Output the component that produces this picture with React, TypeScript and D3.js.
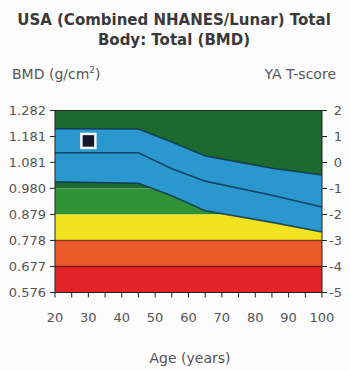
import { useRef, useEffect } from "react";
import * as d3 from "d3";

// Age grid for the reference curves
const ages = [20, 45, 55, 65, 85, 100];
// Reference curve (BMD, g/cm²): mean ± 1 SD
const upperBmd = [1.211, 1.21, 1.16, 1.106, 1.058, 1.032];
const meanBmd = [1.118, 1.118, 1.056, 1.008, 0.953, 0.908];
const lowerBmd = [1.005, 1.0, 0.951, 0.893, 0.848, 0.811];

// T-score zones (top, bottom, colour)
const zoneTop = [2, -1, -2, -3, -4];
const zoneBottom = [-1, -2, -3, -4, -5];
const zoneColors = ["#1c6a2f", "#2f9236", "#f1e321", "#ec5a2b", "#e3242a"];

// Axis labels
const bmdTicks = ["1.282", "1.181", "1.081", "0.980", "0.879", "0.778", "0.677", "0.576"];
const tTicks = [2, 1, 0, -1, -2, -3, -4, -5];
const ageTicks = [20, 30, 40, 50, 60, 70, 80, 90, 100];

// Patient point
const patientAge = [30];
const patientBmd = [1.164];

const W = 350;
const H = 371;
const left = 55;
const right = 322;
const top = 110.5;
const bottom = 292.5;
const FONT = "'DejaVu Sans', sans-serif";

export default function App() {
  const svgRef = useRef<SVGSVGElement>(null);

  useEffect(() => {
    const svg = d3.select(svgRef.current);
    if (!svg.node()) return;
    svg.selectAll("*").remove();

    const x = d3.scaleLinear().domain([20, 100]).range([left, right]);
    const y = d3.scaleLinear().domain([0.576, 1.282]).range([bottom, top]);
    const t = d3.scaleLinear().domain([-5, 2]).range([bottom, top]);

    svg.append("rect").attr("width", W).attr("height", H).attr("fill", "#fdfcfd");

    // zones
    svg.selectAll("rect.zone")
      .data(zoneTop)
      .join("rect")
      .attr("class", "zone")
      .attr("x", left)
      .attr("width", right - left)
      .attr("y", (d) => t(d))
      .attr("height", (d, i) => t(zoneBottom[i]) - t(d))
      .attr("fill", (d, i) => zoneColors[i]);

    // dark boundaries between lower zones
    svg.selectAll("line.zb")
      .data([-3, -4])
      .join("line")
      .attr("x1", left)
      .attr("x2", right)
      .attr("y1", (d) => t(d))
      .attr("y2", (d) => t(d))
      .attr("stroke", (d) => (d === -3 ? "#8a3a12" : "#7a1a14"))
      .attr("stroke-width", 1.5);

    // reference band
    const pts = ages.map((a, i) => ({ a, u: upperBmd[i], m: meanBmd[i], l: lowerBmd[i] }));
    const area = d3.area<any>()
      .x((d) => x(d.a))
      .y0((d) => y(d.l))
      .y1((d) => y(d.u));
    svg.append("path").datum(pts).attr("d", area).attr("fill", "#2a98ce");

    const edge = (key: "u" | "m" | "l") =>
      d3.line<any>().x((d) => x(d.a)).y((d) => y(d[key]));
    (["u", "m", "l"] as const).forEach((k) => {
      svg.append("path")
        .datum(pts)
        .attr("d", edge(k))
        .attr("fill", "none")
        .attr("stroke", "#0f3550")
        .attr("stroke-opacity", 0.85)
        .attr("stroke-width", 1.6);
    });

    // frame
    svg.append("rect")
      .attr("x", left)
      .attr("y", top)
      .attr("width", right - left)
      .attr("height", bottom - top)
      .attr("fill", "none")
      .attr("stroke", "#222")
      .attr("stroke-width", 1);

    // left axis ticks + labels
    const lt = svg.append("g");
    bmdTicks.forEach((s) => {
      const yy = y(+s);
      lt.append("line").attr("x1", left - 5).attr("x2", left).attr("y1", yy).attr("y2", yy)
        .attr("stroke", "#222");
      lt.append("text").attr("x", 46).attr("y", yy).attr("dy", "0.35em")
        .attr("text-anchor", "end").attr("font-size", 13).attr("fill", "#555")
        .attr("font-family", FONT).text(s);
    });

    // right axis ticks + labels
    const rt = svg.append("g");
    tTicks.forEach((v) => {
      const yy = t(v);
      rt.append("line").attr("x1", right).attr("x2", right + 5).attr("y1", yy).attr("y2", yy)
        .attr("stroke", "#222");
      rt.append("text").attr("x", 342).attr("y", yy).attr("dy", "0.35em")
        .attr("text-anchor", "end").attr("font-size", 13).attr("fill", "#555")
        .attr("font-family", FONT).text(v);
    });

    // bottom ticks every 5 years
    svg.selectAll("line.xt")
      .data(d3.range(20, 101, 5))
      .join("line")
      .attr("class", "xt")
      .attr("x1", (d) => x(d))
      .attr("x2", (d) => x(d))
      .attr("y1", bottom)
      .attr("y2", bottom + 5)
      .attr("stroke", "#222");
    svg.selectAll("text.xl")
      .data(ageTicks)
      .join("text")
      .attr("class", "xl")
      .attr("x", (d) => x(d))
      .attr("y", 322)
      .attr("text-anchor", "middle")
      .attr("font-size", 13)
      .attr("fill", "#555")
      .attr("font-family", FONT)
      .text((d) => d);

    // patient marker
    svg.selectAll("rect.pt")
      .data(patientAge)
      .join("rect")
      .attr("class", "pt")
      .attr("x", (d) => x(d) - 7)
      .attr("y", (d, i) => y(patientBmd[i]) - 7)
      .attr("width", 14)
      .attr("height", 14)
      .attr("fill", "#15182a")
      .attr("stroke", "#f4f4f4")
      .attr("stroke-width", 2.5);

    // titles
    const txt = (s: string, xx: number, yy: number, size: number, anchor: string, weight = "normal", fill = "#555") =>
      svg.append("text").attr("x", xx).attr("y", yy).attr("font-size", size)
        .attr("text-anchor", anchor).attr("font-weight", weight).attr("fill", fill)
        .attr("font-family", FONT).text(s);
    txt("USA (Combined NHANES/Lunar) Total", 174, 25, 15, "middle", "bold", "#3a3a3a");
    txt("Body: Total (BMD)", 174, 45, 15, "middle", "bold", "#3a3a3a");
    const bmdLabel = txt("BMD (g/cm", 12, 79, 14, "start");
    bmdLabel.append("tspan").attr("font-size", 9).attr("dy", -6).text("2");
    bmdLabel.append("tspan").attr("dy", 6).text(")");
    txt("YA T-score", 336, 79, 14, "end");
    txt("Age (years)", 190, 363, 14, "middle");
  }, []);

  return (
    <div style={{ position: "absolute", left: 0, top: 0 }}>
      <svg ref={svgRef} width={W} height={H} style={{ display: "block" }} />
    </div>
  );
}
